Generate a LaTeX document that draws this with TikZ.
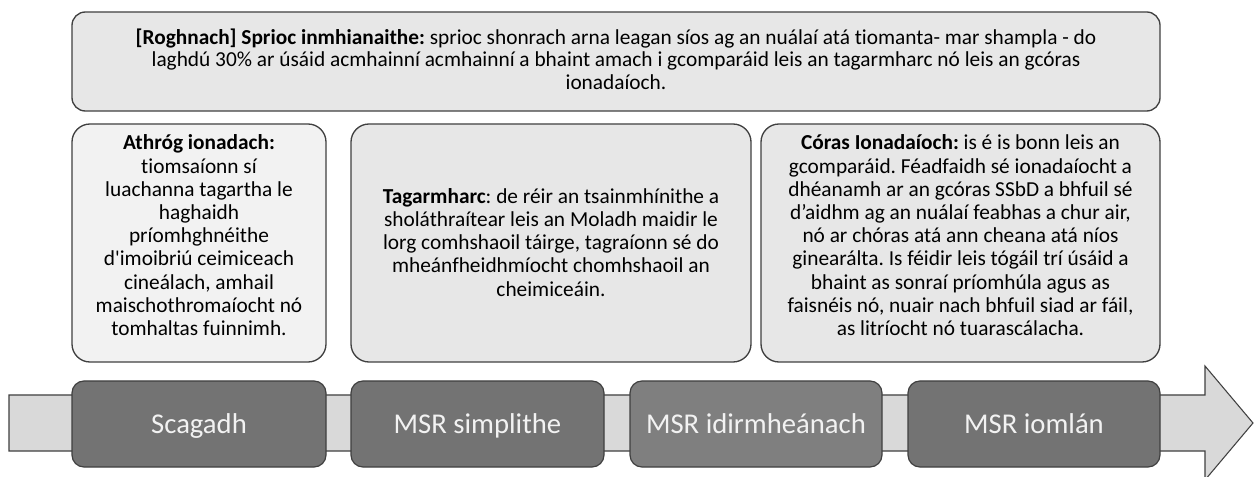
\documentclass[tikz,border=0pt]{standalone}
\usepackage{fontspec}
\setmainfont{Carlito}[Ligatures={NoCommon}]
\definecolor{lightbox}{HTML}{E7E7E7}
\definecolor{paler}{HTML}{F2F2F2}
\definecolor{edge}{HTML}{404040}
\definecolor{band}{HTML}{D9D9D9}
\definecolor{darkstep}{HTML}{737373}
\definecolor{midstep}{HTML}{7F7F7F}
\definecolor{steptext}{HTML}{F2F2F2}
\tikzset{
  infobox/.style={draw=edge, line width=1pt, fill=lightbox, rounded corners=13.5pt, inner sep=0pt},
  infotext/.style={anchor=south, inner sep=0pt, align=center,
    font=\frenchspacing\fontsize{16}{17.4}\selectfont, text=black},
  stagebox/.style={draw=edge, line width=0.9pt, fill=darkstep, rounded corners=9pt,
    inner sep=0pt, align=center, minimum height=64.5pt, text height=14pt, text depth=0pt,
    font=\fontsize{21.5}{25}\selectfont, text=steptext},
}
\begin{document}
\begin{tikzpicture}[x=0.75pt,y=-0.75pt]
\clip (0,0) rectangle (1254,477);
\fill[white] (0,0) rectangle (1254,477);
% top box
\node[infobox, rounded corners=10pt, minimum width=816pt, minimum height=74.25pt] (goal) at (616,61.5) {};
\node[infotext, font=\frenchspacing\fontsize{16}{16.8}\selectfont] (goaltext) at (616,89.5)
 {\textbf{[Roghnach] Sprioc inmhianaithe:} sprioc shonrach arna leagan síos ag an nuálaí atá tiomanta- mar shampla - do\\
 laghdú 30\% ar úsáid acmhainní acmhainní a bhaint amach i gcomparáid leis an tagarmharc nó leis an gcóras\\
 ionadaíoch.};
% second row
\node[infobox, fill=paler, minimum width=190.5pt, minimum height=178.5pt] (proxy) at (199,243) {};
\node[infotext] (proxytext) at (199,336)
 {\textbf{Athróg ionadach:}\\ tiomsaíonn sí\\ luachanna tagartha le\\ haghaidh\\ príomhghnéithe\\ d\textquotesingle imoibriú ceimiceach\\ cineálach, amhail\\ maischothromaíocht nó\\ tomhaltas fuinnimh.};
\node[infobox, minimum width=300pt, minimum height=178.5pt] (bench) at (551,243) {};
\node[infotext] (benchtext) at (551,296.5)
 {\textbf{Tagarmharc}: de réir an tsainmhínithe a\\ sholáthraítear leis an Moladh maidir le\\ lorg comhshaoil táirge, tagraíonn sé do\\ mheánfheidhmíocht chomhshaoil an\\ cheimiceáin.};
\node[infobox, minimum width=299.25pt, minimum height=178.5pt] (refsys) at (960.5,243) {};
\node[infotext] (refsystext) at (960.5,336)
 {\textbf{Córas Ionadaíoch:} is é is bonn leis an\\ gcomparáid. Féadfaidh sé ionadaíocht a\\ dhéanamh ar an gcóras SSbD a bhfuil sé\\ d’aidhm ag an nuálaí feabhas a chur air,\\ nó ar chóras atá ann cheana atá níos\\ ginearálta. Is féidir leis tógáil trí úsáid a\\ bhaint as sonraí príomhúla agus as\\ faisnéis nó, nuair nach bhfuil siad ar fáil,\\ as litríocht nó tuarascálacha.};
% arrow band
\draw[draw=edge, line width=0.8pt, fill=band, line join=miter]
 (9,395) -- (1205,395) -- (1205,366) -- (1253,423) -- (1205,480) -- (1205,451) -- (9,451) -- cycle;
% stages
\node[stagebox, minimum width=190.5pt] (s1) at (199,424) {Scagadh};
\node[stagebox, minimum width=189.75pt] (s2) at (477.5,424) {MSR simplithe};
\node[stagebox, fill=midstep, minimum width=189pt] (s3) at (756,424) {MSR idirmheánach};
\node[stagebox, minimum width=189pt] (s4) at (1034,424) {MSR iomlán};
\end{tikzpicture}
\end{document}
